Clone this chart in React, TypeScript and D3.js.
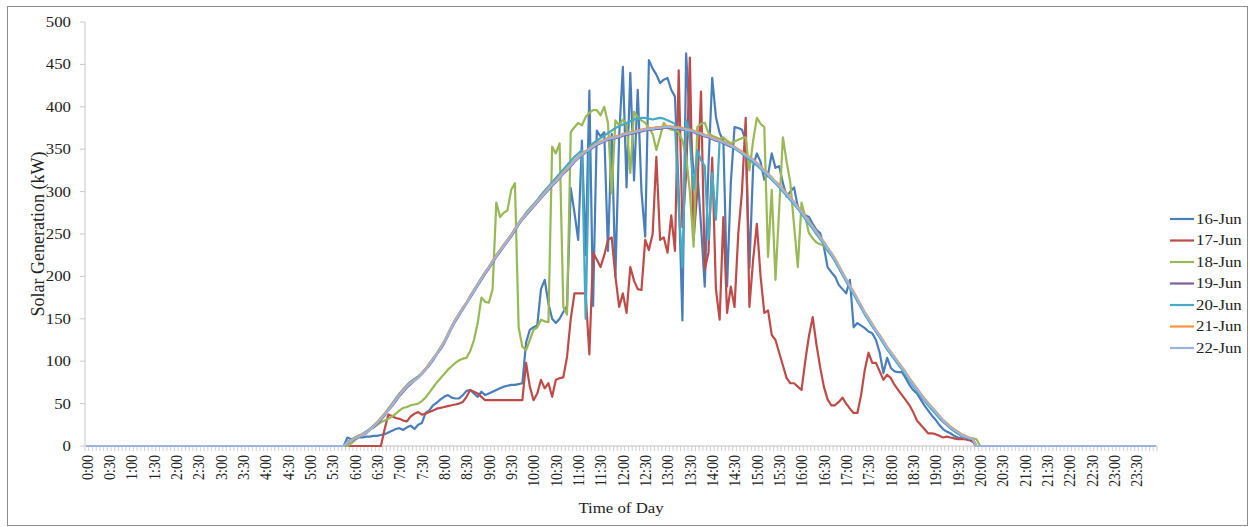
import React from "react";
import * as d3 from "d3";

// 5-minute readings, kW. Night hours are all zero.
// NIGHT_AM covers 0:00-5:40, each DAY_ array 5:45-19:55, NIGHT_PM 20:00-23:55.
const NIGHT_AM = [
  0, 0, 0, 0, 0, 0, 0, 0, 0, 0,
  0, 0, 0, 0, 0, 0, 0, 0, 0, 0,
  0, 0, 0, 0, 0, 0, 0, 0, 0, 0,
  0, 0, 0, 0, 0, 0, 0, 0, 0, 0,
  0, 0, 0, 0, 0, 0, 0, 0, 0, 0,
  0, 0, 0, 0, 0, 0, 0, 0, 0, 0,
  0, 0, 0, 0, 0, 0, 0, 0, 0,
];
const NIGHT_PM = [
  0, 0, 0, 0, 0, 0, 0, 0, 0, 0,
  0, 0, 0, 0, 0, 0, 0, 0, 0, 0,
  0, 0, 0, 0, 0, 0, 0, 0, 0, 0,
  0, 0, 0, 0, 0, 0, 0, 0, 0, 0,
  0, 0, 0, 0, 0, 0, 0, 0,
];

const DAY_16 = [
  0, 10, 8, 9, 10, 10, 11, 11, 12, 12,
  13, 14, 16, 18, 20, 21, 19, 22, 24, 20,
  25, 27, 39, 42, 48, 51, 55, 58, 60, 57,
  56, 56, 60, 65, 66, 62, 58, 64, 60, 62,
  64, 66, 68, 70, 71, 72, 72, 73, 74, 122,
  137, 140, 142, 185, 196, 168, 150, 145, 150, 158,
  165, 304, 275, 243, 360, 225, 419, 165, 372, 365,
  370, 230, 368, 200, 365, 447, 305, 440, 313, 420,
  300, 247, 455, 445, 438, 428, 432, 434, 420, 412,
  300, 148, 463, 380, 322, 325, 260, 188, 330, 434,
  388, 369, 360, 188, 310, 376, 375, 373, 360, 210,
  330, 345, 335, 314, 320, 345, 328, 330, 310, 294,
  300, 305, 282, 276, 272, 270, 262, 255, 251, 235,
  211, 205, 200, 190, 185, 180, 196, 140, 145, 142,
  139, 135, 133, 125, 110, 86, 104, 92, 88, 87,
  87, 80, 72, 66, 62, 55, 48, 42, 36, 31,
  25, 20, 17, 15, 12, 10, 9, 8, 8, 6,
  0,
];

const DAY_17 = [
  0, 0, 0, 0, 0, 0, 0, 0, 0, 0,
  0, 20, 37, 35, 33, 32, 30, 29, 35, 38,
  40, 37, 38, 40, 42, 44, 45, 46, 47, 48,
  49, 50, 52, 58, 66, 64, 62, 58, 54, 54,
  54, 54, 54, 54, 54, 54, 54, 54, 54, 98,
  70, 54, 62, 78, 68, 74, 58, 78, 80, 81,
  105, 150, 180, 180, 180, 180, 108, 228, 220, 211,
  225, 243, 246, 200, 164, 180, 157, 211, 195, 185,
  184, 243, 231, 250, 341, 243, 246, 228, 272, 230,
  443, 258, 320, 458, 243, 300, 418, 208, 228, 340,
  185, 149, 270, 157, 188, 164, 250, 300, 387, 164,
  220, 262, 200, 157, 160, 131, 125, 110, 95, 80,
  74, 74, 70, 66, 100, 130, 152, 120, 93, 70,
  55, 48, 48, 52, 57, 50, 44, 39, 39, 60,
  90, 110, 98, 98, 88, 78, 84, 80, 72, 66,
  60, 54, 48, 40, 30, 25, 20, 15, 15, 14,
  12, 10, 11, 10, 9, 8, 8, 8, 7, 5,
  0,
];

const DAY_18 = [
  0, 0, 3, 7, 10, 14, 17, 20, 22, 25,
  28, 30, 32, 35, 38, 42, 45, 46, 48, 49,
  50, 53, 57, 63, 69, 75, 80, 85, 90, 94,
  98, 101, 103, 104, 112, 125, 145, 175, 170, 169,
  185, 287, 270, 275, 278, 302, 310, 140, 117, 113,
  125, 137, 140, 149, 147, 146, 353, 345, 357, 164,
  155, 370, 376, 381, 378, 388, 393, 396, 396, 390,
  400, 381, 298, 384, 378, 385, 380, 322, 394, 388,
  384, 381, 375, 368, 349, 365, 381, 375, 373, 372,
  370, 360, 341, 300, 235, 376, 380, 381, 369, 366,
  364, 362, 364, 360, 357, 359, 361, 363, 364, 325,
  360, 387, 380, 376, 223, 302, 196, 280, 364, 335,
  310, 260, 211, 287, 270, 251, 245, 240, 238, 236,
  230, 225, 218, 210, 203, 195, 187, 180, 172, 164,
  156, 149, 142, 135, 129, 122, 115, 109, 103, 97,
  91, 85, 78, 72, 66, 60, 54, 49, 44, 39,
  34, 29, 25, 21, 18, 15, 12, 10, 9, 9,
  8,
];

const DAY_19 = [
  0, 3, 6, 8, 11, 13, 15, 19, 22, 26,
  31, 36, 42, 47, 53, 59, 64, 69, 73, 77,
  81, 85, 90, 95, 101, 108, 114, 121, 130, 139,
  147, 154, 161, 168, 175, 182, 189, 196, 203, 209,
  216, 223, 229, 235, 241, 247, 254, 261, 267, 272,
  277, 282, 287, 292, 297, 302, 307, 311, 316, 321,
  325, 330, 335, 339, 343, 346, 349, 352, 355, 357,
  359, 361, 362, 363, 364, 366, 367, 368, 369, 370,
  371, 372, 373, 373, 374, 374, 375, 375, 375, 374,
  374, 373, 372, 371, 370, 368, 367, 365, 364, 362,
  360, 359, 357, 355, 353, 351, 348, 345, 342, 339,
  336, 332, 328, 323, 319, 315, 310, 306, 301, 296,
  291, 286, 280, 275, 269, 263, 257, 251, 245, 239,
  232, 226, 219, 211, 203, 195, 187, 180, 172, 164,
  156, 149, 142, 135, 129, 122, 115, 109, 103, 97,
  91, 85, 78, 72, 66, 60, 54, 49, 44, 39,
  34, 29, 25, 21, 18, 15, 12, 10, 9, 7,
  0,
];

const DAY_20 = [
  0, 5, 7, 10, 12, 14, 17, 20, 24, 28,
  33, 38, 44, 50, 56, 62, 67, 72, 76, 79,
  82, 86, 91, 97, 103, 109, 116, 123, 132, 141,
  149, 156, 163, 169, 177, 184, 191, 198, 205, 211,
  218, 225, 231, 237, 243, 249, 256, 263, 269, 275,
  280, 285, 290, 296, 301, 306, 311, 316, 321, 326,
  331, 336, 341, 345, 349, 150, 353, 357, 360, 363,
  366, 369, 372, 375, 377, 379, 381, 383, 385, 386,
  387, 387, 386, 385, 386, 387, 386, 384, 382, 380,
  282, 211, 384, 360, 302, 349, 337, 330, 243, 322,
  267, 361, 359, 357, 354, 351, 348, 345, 341, 338,
  334, 331, 327, 323, 319, 314, 310, 305, 300, 295,
  290, 285, 280, 274, 268, 262, 256, 250, 244, 238,
  231, 225, 218, 210, 202, 194, 186, 179, 171, 163,
  155, 148, 141, 135, 128, 121, 114, 108, 102, 96,
  90, 84, 77, 71, 65, 59, 54, 48, 43, 38,
  33, 29, 25, 21, 18, 15, 12, 10, 9, 8,
  0,
];

const DAY_21 = [
  0, 4, 7, 9, 12, 14, 16, 20, 23, 28,
  33, 38, 43, 49, 55, 61, 66, 71, 75, 78,
  81, 86, 91, 97, 103, 109, 116, 123, 132, 141,
  149, 156, 163, 169, 177, 184, 191, 198, 205, 211,
  218, 225, 231, 237, 243, 249, 256, 263, 269, 274,
  279, 284, 289, 294, 299, 304, 309, 313, 318, 323,
  327, 332, 337, 341, 345, 348, 351, 354, 357, 359,
  361, 363, 364, 365, 366, 368, 369, 370, 371, 372,
  373, 374, 375, 375, 376, 376, 377, 377, 377, 376,
  376, 375, 374, 373, 372, 370, 369, 367, 366, 364,
  362, 361, 359, 357, 355, 353, 350, 347, 344, 341,
  338, 334, 330, 325, 321, 317, 312, 308, 303, 298,
  293, 288, 282, 277, 271, 265, 259, 253, 247, 241,
  234, 228, 221, 213, 205, 197, 189, 182, 174, 166,
  158, 151, 144, 137, 131, 124, 117, 111, 105, 99,
  93, 87, 80, 74, 68, 62, 56, 51, 46, 41,
  36, 31, 27, 23, 20, 17, 14, 12, 10, 9,
  0,
];

const DAY_22 = [
  0, 4, 6, 9, 11, 13, 16, 19, 23, 27,
  32, 37, 42, 48, 54, 60, 65, 70, 74, 77,
  80, 85, 90, 96, 102, 108, 115, 122, 131, 140,
  148, 155, 162, 168, 176, 183, 190, 197, 204, 210,
  217, 224, 230, 236, 242, 248, 255, 262, 268, 273,
  278, 283, 288, 293, 298, 303, 308, 312, 317, 322,
  326, 331, 336, 340, 344, 347, 350, 353, 356, 358,
  360, 362, 363, 364, 365, 367, 368, 369, 370, 371,
  372, 373, 374, 374, 375, 375, 376, 376, 376, 375,
  375, 374, 373, 372, 371, 369, 368, 366, 365, 363,
  361, 360, 358, 356, 354, 352, 349, 346, 343, 340,
  337, 333, 329, 324, 320, 316, 311, 307, 302, 297,
  292, 287, 281, 276, 270, 264, 258, 252, 246, 240,
  233, 227, 220, 212, 204, 196, 188, 181, 173, 165,
  157, 150, 143, 136, 130, 123, 116, 110, 104, 98,
  92, 86, 79, 73, 67, 61, 55, 50, 45, 40,
  35, 30, 26, 22, 19, 16, 13, 11, 10, 8,
  0,
];

const SERIES_NAMES = ["16-Jun", "17-Jun", "18-Jun", "19-Jun", "20-Jun", "21-Jun", "22-Jun"];
const SERIES_DAYS = [DAY_16, DAY_17, DAY_18, DAY_19, DAY_20, DAY_21, DAY_22];
const SERIES_COLORS = ["#4A7EBB", "#BE4B48", "#98B954", "#7D60A0", "#46AAC5", "#F69240", "#9DB5DA"];

const Y_TICKS = [0, 50, 100, 150, 200, 250, 300, 350, 400, 450, 500];
const TIME_LABELS = [
  "0:00", "0:30", "1:00", "1:30", "2:00", "2:30", "3:00", "3:30",
  "4:00", "4:30", "5:00", "5:30", "6:00", "6:30", "7:00", "7:30",
  "8:00", "8:30", "9:00", "9:30", "10:00", "10:30", "11:00", "11:30",
  "12:00", "12:30", "13:00", "13:30", "14:00", "14:30", "15:00", "15:30",
  "16:00", "16:30", "17:00", "17:30", "18:00", "18:30", "19:00", "19:30",
  "20:00", "20:30", "21:00", "21:30", "22:00", "22:30", "23:00", "23:30",
];
const CATEGORIES = d3.range(288).map(
  (i) => `${Math.floor(i / 12)}:${String((i % 12) * 5).padStart(2, "0")}`
);

const FONT = "'Liberation Serif', 'Times New Roman', serif";
// the original picture is stretched sideways, so the glyphs are too
const SX = 1.2;

export default function App() {
  const width = 1250;
  const height = 527;
  const left = 85;
  const right = 1157;
  const top = 22;
  const bottom = 446;

  const x = d3.scaleBand<string>().domain(CATEGORIES).range([left, right]);
  const y = d3.scaleLinear().domain([0, 500]).range([bottom, top]);
  const cx = (c: string) => (x(c) as number) + x.bandwidth() / 2;

  const line = d3
    .line<number>()
    .x((d, i) => cx(CATEGORIES[i]))
    .y((d) => y(d));

  const series = SERIES_DAYS.map((day) => [...NIGHT_AM, ...day, ...NIGHT_PM]);
  const tickXs = CATEGORIES.map((c) => x(c) as number).concat([right]);

  const legendX = 1170;
  const legendY = 219;
  const legendStep = 21.5;

  return (
    <svg
      width={width}
      height={height}
      style={{ position: "absolute", left: 0, top: 0, background: "#fff" }}
      fontFamily={FONT}
    >
      <rect x={7.5} y={6.5} width={1240} height={519} fill="#fff" stroke="#8c8c8c" />

      {/* y axis */}
      <line x1={left} x2={left} y1={top} y2={bottom} stroke="#c8c8c8" />
      {Y_TICKS.map((t) => (
        <g key={t}>
          <line x1={left - 5} x2={left} y1={y(t)} y2={y(t)} stroke="#c8c8c8" />
          <text
            transform={`translate(${left - 14},${y(t)}) scale(${SX},1)`}
            dy="0.35em"
            textAnchor="end"
            fontSize={14}
            fill="#222"
          >
            {t}
          </text>
        </g>
      ))}

      {/* x axis */}
      <line x1={left} x2={right} y1={bottom} y2={bottom} stroke="#c0c0c0" />
      {tickXs.map((tx, i) => (
        <line key={i} x1={tx} x2={tx} y1={bottom} y2={bottom + 5} stroke="#c4c4c4" strokeWidth={0.8} />
      ))}
      {TIME_LABELS.map((lab) => (
        <text
          key={lab}
          transform={`translate(${cx(lab)},${bottom + 9}) scale(${SX},1) rotate(-90)`}
          dy="0.35em"
          textAnchor="end"
          fontSize={14}
          fill="#222"
        >
          {lab}
        </text>
      ))}

      {/* series */}
      {series.map((s, i) => (
        <path
          key={SERIES_NAMES[i]}
          d={line(s) as string}
          fill="none"
          stroke={SERIES_COLORS[i]}
          strokeWidth={2.2}
          strokeLinejoin="round"
        />
      ))}

      {/* axis titles */}
      <text
        transform={`translate(${(left + right) / 2},513) scale(${SX},1)`}
        textAnchor="middle"
        fontSize={14}
        fill="#222"
      >
        Time of Day
      </text>
      <text
        transform={`translate(37,${(top + bottom) / 2}) scale(1.05,1) rotate(-90)`}
        textAnchor="middle"
        dy="0.35em"
        fontSize={18}
        fill="#222"
      >
        Solar Generation (kW)
      </text>

      {/* legend */}
      {SERIES_NAMES.map((name, i) => (
        <g key={name} transform={`translate(${legendX},${legendY + i * legendStep})`}>
          <line x1={0} x2={24} y1={0} y2={0} stroke={SERIES_COLORS[i]} strokeWidth={2.2} />
          <text transform={`translate(26,0) scale(${SX},1)`} dy="0.35em" fontSize={14} fill="#222">
            {name}
          </text>
        </g>
      ))}
    </svg>
  );
}
